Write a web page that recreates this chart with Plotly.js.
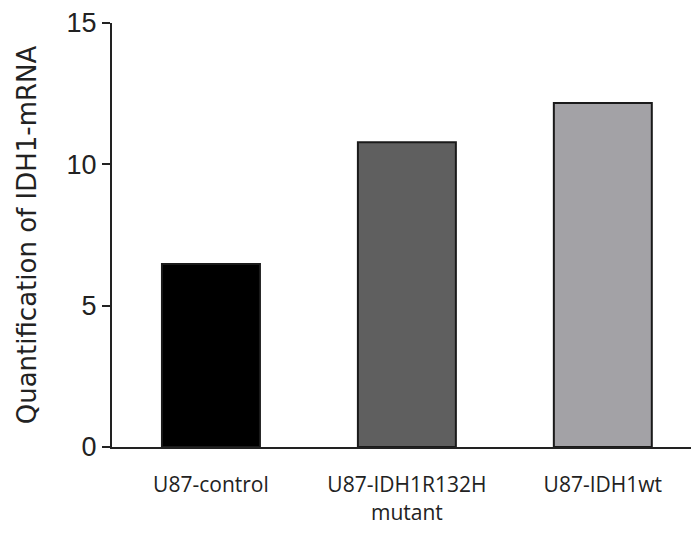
<!DOCTYPE html>
<html>
<head>
<meta charset="utf-8">
<script src="https://cdn.plot.ly/plotly-3.0.1.min.js"></script>
<style>html,body{margin:0;padding:0;background:#fff;}#chart{width:691px;height:533px;}</style>
</head>
<body>
<div id="chart"></div>
<script>
const categories = ["U87-control", "U87-IDH1R132H<br>mutant", "U87-IDH1wt"];
const values = [6.47, 10.78, 12.17];
const barColors = ["#000000", "#5f5f5f", "#a3a2a6"];
const yTicks = [0, 5, 10, 15];

const trace = {
  type: "bar",
  x: [0, 1, 2],
  y: values,
  width: 0.5,
  marker: {color: barColors, line: {color: "#1a1a1a", width: 2}},
  hoverinfo: "none"
};

const layout = {
  width: 691, height: 533,
  margin: {l: 112, r: 0, t: 23, b: 86},
  paper_bgcolor: "#fff", plot_bgcolor: "#fff",
  showlegend: false,
  xaxis: {
    range: [-0.505, 2.45],
    tickvals: [0, 1, 2],
    ticktext: categories,
    ticks: "",
    showgrid: false, zeroline: false,
    showline: true, linecolor: "#222", linewidth: 2,
    tickfont: {family: "Open Sans", size: 21, color: "#222"},
    ticklabelstandoff: 18
  },
  yaxis: {
    range: [0, 15],
    tickvals: yTicks,
    ticks: "outside", ticklen: 8, tickwidth: 2, tickcolor: "#222",
    showgrid: false, zeroline: false,
    showline: true, linecolor: "#222", linewidth: 2,
    tickfont: {family: "Liberation Sans, Arial", size: 27, color: "#222"},
    title: {text: "Quantification of IDH1-mRNA", font: {family: "DejaVu Sans", size: 26, color: "#222"}, standoff: 22}
  }
};

Plotly.newPlot("chart", [trace], layout, {staticPlot: true, displayModeBar: false});
</script>
</body>
</html>
